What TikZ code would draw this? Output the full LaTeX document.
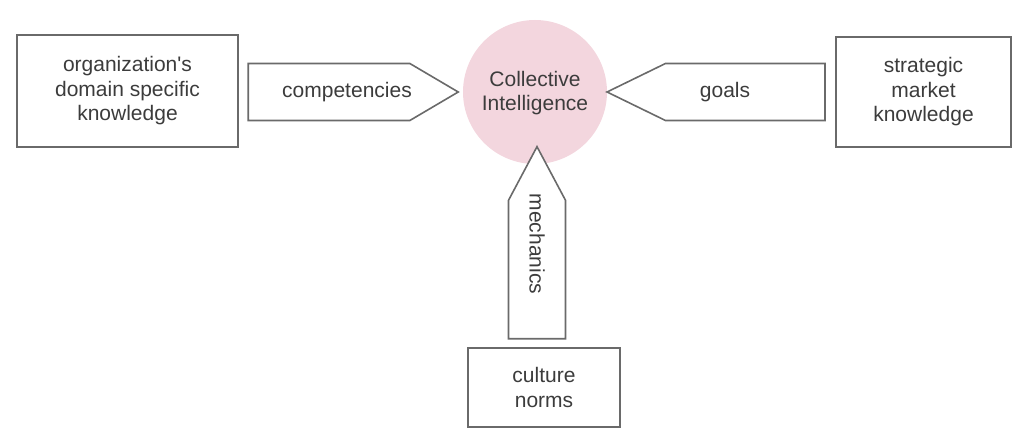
\documentclass[tikz,border=0pt]{standalone}
\usepackage{fontspec}
\setmainfont{Liberation Sans}
\usetikzlibrary{shapes.arrows}
\definecolor{linegray}{HTML}{6A6A6A}
\definecolor{textgray}{HTML}{3C3C3C}
\definecolor{blush}{HTML}{F3D6DE}
\tikzset{
  x=1pt, y=-1pt,
  txt/.style={font=\fontsize{21}{24.5}\selectfont, text=textgray, align=center, inner sep=0pt},
  srcbox/.style={draw=linegray, line width=1.6pt, fill=white, inner sep=0pt},
  flow/.style={single arrow, draw=linegray, line width=1.6pt, fill=white,
    single arrow head extend=0pt, minimum width=57pt, inner sep=0pt},
  hub/.style={circle, fill=blush, minimum size=144pt, inner sep=0pt}
}
\begin{document}
\begin{tikzpicture}
\useasboundingbox (0,0) rectangle (1015,430);

% central concept
\node[hub] (ci) at (535,92) {};
\node[txt] (citext) at (535,93) {Collective\\Intelligence};

% surrounding sources
\node[srcbox, minimum width=221pt, minimum height=112pt] (org) at (127.5,91) {};
\node[txt] (orgtext) at (org.center) {organization\textquotesingle s\\domain specific\\knowledge};

\node[srcbox, minimum width=175pt, minimum height=110pt] (mkt) at (923.5,92) {};
\node[txt] (mkttext) at (mkt.center) {strategic\\market\\knowledge};

\node[srcbox, minimum width=152pt, minimum height=79pt] (cult) at (544,387.5) {};
\node[txt] (culttext) at (cult.center) {culture\\norms};

% block arrows feeding the hub
\node[flow, minimum height=210pt, single arrow tip angle=61, anchor=tip]
  (comp) at ([xshift=-3pt]ci.west) {};
\node[txt] (comptext) at (347,92) {competencies};

\node[flow, minimum height=218pt, single arrow tip angle=52, shape border rotate=180, anchor=tip]
  (goals) at ([xshift=-2pt]ci.east) {};
\node[txt] (goalstext) at (725,92) {goals};

\node[flow, minimum height=192pt, single arrow tip angle=56, shape border rotate=90, anchor=tip]
  (mech) at (537,145) {};
\node[txt, rotate=-90] (mechtext) at (537,244) {mechanics};
\end{tikzpicture}
\end{document}
